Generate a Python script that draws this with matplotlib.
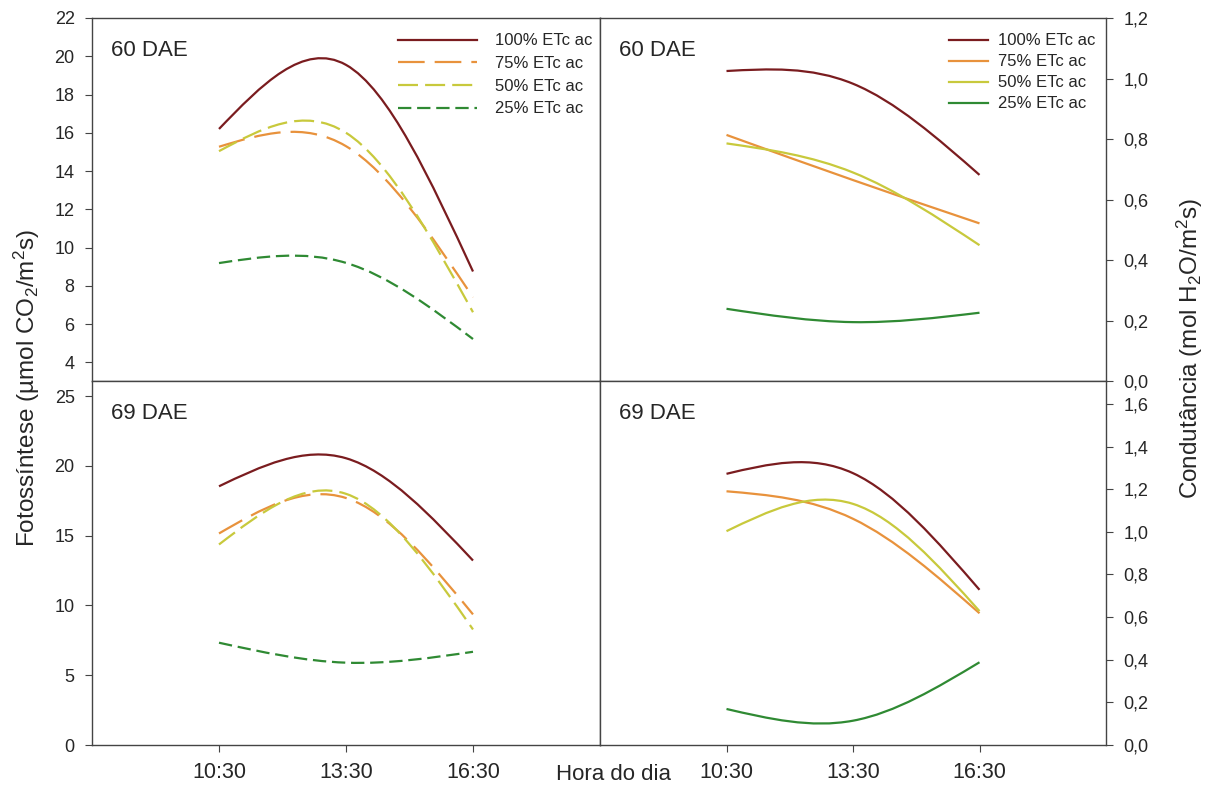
import numpy as np
import matplotlib
matplotlib.use("Agg")
import matplotlib.pyplot as plt
from matplotlib.path import Path
from matplotlib.patches import PathPatch
from matplotlib.lines import Line2D

plt.rcParams["font.family"] = ["Liberation Sans", "DejaVu Sans"]
plt.rcParams["mathtext.fontset"] = "custom"
plt.rcParams["mathtext.rm"] = "Liberation Sans"
plt.rcParams["mathtext.it"] = "Liberation Sans:italic"

hours = [10.5, 13.5, 16.5]
time_labels = ["10:30", "13:30", "16:30"]
labels = ["100% ETc ac", "75% ETc ac", "50% ETc ac", "25% ETc ac"]
colors = ["#7a1c1f", "#e8923c", "#c8c93c", "#2f8a33"]

# fotossintese (umol CO2/m2s)
foto_60 = [
    [16.2, 19.55, 8.75],
    [15.27, 15.3, 7.4],
    [15.04, 16.0, 6.62],
    [9.19, 9.2, 5.22],
]
foto_69 = [
    [18.54, 20.55, 13.22],
    [15.16, 17.7, 9.36],
    [14.37, 18.0, 8.28],
    [7.33, 5.9, 6.68],
]

# condutancia (mol H2O/m2s)
cond_60 = [
    [1.025, 0.983, 0.682],
    [0.814, 0.665, 0.522],
    [0.786, 0.69, 0.45],
    [0.24, 0.196, 0.227],
]
cond_69 = [
    [1.272, 1.275, 0.728],
    [1.19, 1.061, 0.618],
    [1.003, 1.131, 0.628],
    [0.169, 0.114, 0.388],
]

dashes_left = ["-", (0, (12, 4.5)), (0, (9, 3.2)), (0, (6, 2.6))]


def spline_path(x, y):
    # natural cubic spline through the points, as bezier segments
    x = np.asarray(x, float)
    y = np.asarray(y, float)
    n = len(x)
    h = np.diff(x)
    A = np.zeros((n, n))
    r = np.zeros(n)
    A[0, 0] = 1
    A[-1, -1] = 1
    for i in range(1, n - 1):
        A[i, i - 1] = h[i - 1]
        A[i, i] = 2 * (h[i - 1] + h[i])
        A[i, i + 1] = h[i]
        r[i] = 6 * ((y[i + 1] - y[i]) / h[i] - (y[i] - y[i - 1]) / h[i - 1])
    M = np.linalg.solve(A, r)
    verts = [(x[0], y[0])]
    codes = [Path.MOVETO]
    for i in range(n - 1):
        s = (y[i + 1] - y[i]) / h[i]
        d0 = s - h[i] * (2 * M[i] + M[i + 1]) / 6
        d1 = s + h[i] * (M[i] + 2 * M[i + 1]) / 6
        verts += [(x[i] + h[i] / 3, y[i] + d0 * h[i] / 3),
                  (x[i + 1] - h[i] / 3, y[i + 1] - d1 * h[i] / 3),
                  (x[i + 1], y[i + 1])]
        codes += [Path.CURVE4] * 3
    return Path(verts, codes)


fig = plt.figure(figsize=(12.1, 7.92), dpi=100)
W, H = 1210, 792
x0, xm, x1 = 92, 600, 1106
ytop, ymid, ybot = 18, 381.5, 745

ax_tl = fig.add_axes([x0 / W, 1 - ymid / H, (xm - x0) / W, (ymid - ytop) / H])
ax_tr = fig.add_axes([xm / W, 1 - ymid / H, (x1 - xm) / W, (ymid - ytop) / H])
ax_bl = fig.add_axes([x0 / W, 1 - ybot / H, (xm - x0) / W, (ybot - ymid) / H])
ax_br = fig.add_axes([xm / W, 1 - ybot / H, (x1 - xm) / W, (ybot - ymid) / H])

panels = [
    (ax_tl, foto_60, "60 DAE", dashes_left, (3, 22), np.arange(4, 23, 2), False),
    (ax_tr, cond_60, "60 DAE", ["-"] * 4, (0, 1.2), np.arange(0, 1.21, 0.2), True),
    (ax_bl, foto_69, "69 DAE", dashes_left, (0, 26.05), np.arange(0, 26, 5), False),
    (ax_br, cond_69, "69 DAE", ["-"] * 4, (0, 1.705), np.arange(0, 1.61, 0.2), True),
]

text_col = "#262626"
for ax, data, title, styles, ylim, yticks, right in panels:
    for vals, c, ls in zip(data, colors, styles):
        ax.add_patch(PathPatch(spline_path(hours, vals), fill=False,
                               edgecolor=c, lw=1.6, linestyle=ls,
                               capstyle="butt"))
    ax.set_xlim(7.5, 19.5)
    ax.set_ylim(*ylim)
    ax.set_yticks(yticks)
    if right:
        ax.yaxis.tick_right()
        ax.set_yticklabels([f"{v:.1f}".replace(".", ",") for v in yticks])
    else:
        ax.set_yticklabels([f"{v:.0f}" for v in yticks])
    ax.tick_params(axis="y", direction="out", length=5, width=0.8,
                   labelsize=13, colors="#444444", labelcolor=text_col,
                   pad=7.5)
    ax.set_xticks(hours)
    ax.set_xticklabels(time_labels)
    ax.tick_params(axis="x", direction="out", length=5, width=0.8,
                   labelsize=15.5, colors="#444444", labelcolor=text_col, pad=7)
    for sp in ax.spines.values():
        sp.set_color("#444444")
        sp.set_linewidth(1.0)
    ax.text(0.038, 0.94, title, transform=ax.transAxes, fontsize=16,
            color=text_col, va="top", ha="left")

for ax in (ax_tl, ax_tr):
    ax.tick_params(axis="x", bottom=False, labelbottom=False)

h_left = [Line2D([], [], color=c, lw=1.6, linestyle=ls, dash_capstyle="butt")
          for c, ls in zip(colors, dashes_left)]
ax_tl.legend(h_left, labels, loc="upper right", bbox_to_anchor=(1.005, 0.985),
             frameon=False, fontsize=12, handlelength=4.7, handletextpad=1.1,
             labelspacing=0.46, labelcolor=text_col, borderaxespad=0.2)
h_right = [Line2D([], [], color=c, lw=1.6) for c in colors]
ax_tr.legend(h_right, labels, loc="upper right", bbox_to_anchor=(0.998, 0.985),
             frameon=False, fontsize=12, handlelength=2.3, handletextpad=0.6,
             labelspacing=0.36, labelcolor=text_col, borderaxespad=0.2)

fig.text(0.022, 0.51, "Fotossíntese (µmol CO$_2$/m$^2$s)", rotation=90,
         ha="center", va="center", fontsize=17.5, color=text_col)
fig.text(0.983, 0.56, "Condutância (mol H$_2$O/m$^2$s)", rotation=90,
         ha="center", va="center", fontsize=17.5, color=text_col)
fig.text(0.507, 0.022, "Hora do dia", ha="center", va="center",
         fontsize=16, color=text_col)

fig.savefig("out.png", dpi=100)
